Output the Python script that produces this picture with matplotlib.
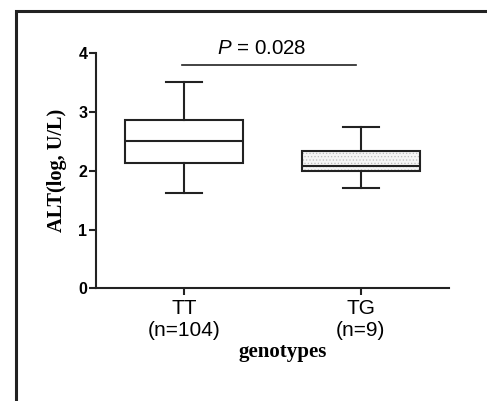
import matplotlib.pyplot as plt
from matplotlib.patches import Rectangle, PathPatch

# box statistics (log U/L)
genotypes = ["TT\n(n=104)", "TG\n(n=9)"]
whislo = [1.62, 1.70]
q1 = [2.13, 1.99]
med = [2.50, 2.09]
q3 = [2.87, 2.33]
whishi = [3.51, 2.75]
p_text = "$\\it{P}$ = 0.028"
p_bar_y = 3.80

plt.rcParams["mathtext.fontset"] = "custom"
plt.rcParams["mathtext.it"] = "Liberation Sans:italic"
plt.rcParams["mathtext.rm"] = "Liberation Sans"

stats = []
for i in range(len(genotypes)):
    stats.append(dict(label=genotypes[i], whislo=whislo[i], q1=q1[i], med=med[i],
                      q3=q3[i], whishi=whishi[i], fliers=[]))

fig = plt.figure(figsize=(4.87, 4.01), dpi=100)
ax = fig.add_axes([95.7 / 487, 1 - 288.3 / 401, (449.3 - 95.7) / 487, (288.3 - 53.3) / 401])

lw = 1.5
dark = "#222222"
bp = ax.bxp(stats, positions=[1, 2], widths=0.665, patch_artist=True, showfliers=False,
            boxprops=dict(linewidth=lw, edgecolor=dark, facecolor="white"),
            medianprops=dict(linewidth=lw, color=dark),
            whiskerprops=dict(linewidth=lw, color=dark),
            capprops=dict(linewidth=lw, color=dark),
            capwidths=0.2)

# light dotted fill for TG box
plt.rcParams["hatch.linewidth"] = 0.5
tg = bp["boxes"][1]
dots = PathPatch(tg.get_path(), facecolor="#f5f5f5", edgecolor="#bdbdbd", hatch=".....",
                 linewidth=0, zorder=tg.get_zorder() - 0.1)
ax.add_patch(dots)
tg.set_facecolor("none")

ax.set_xlim(0.5, 2.5)
ax.set_ylim(0, 4)
ax.set_yticks([0, 1, 2, 3, 4])
ax.spines["top"].set_visible(False)
ax.spines["right"].set_visible(False)
for s in ["left", "bottom"]:
    ax.spines[s].set_linewidth(lw)
    ax.spines[s].set_color(dark)
ax.tick_params(axis="both", width=lw, length=5, color=dark)
ax.tick_params(axis="y", labelsize=11.5, pad=1)
for t in ax.get_yticklabels():
    t.set_fontweight("bold")
    t.set_family("Liberation Sans")
ax.tick_params(axis="x", labelsize=15, pad=3)
for t in ax.get_xticklabels():
    t.set_family("Liberation Sans")
    t.set_linespacing(1.2)

ax.set_ylabel("ALT(log, U/L)", fontsize=14.7, fontweight="bold", family="Liberation Serif", labelpad=8)
fig.text(283 / 487, 1 - 352 / 401, "genotypes", fontsize=15, fontweight="bold",
         family="Liberation Serif", ha="center", va="center")

# significance bar
ax.plot([0.99, 1.97], [p_bar_y, p_bar_y], color=dark, lw=1.2, clip_on=False)
ax.text(1.44, p_bar_y + 0.12, p_text, fontsize=14.8, family="Liberation Sans",
        ha="center", va="bottom", clip_on=False)

# outer frame
fig.patches.append(Rectangle((15.5 / 487, -0.1), 1.2, 1 - 11 / 401 + 0.1, transform=fig.transFigure,
                             fill=False, edgecolor=dark, linewidth=2.2))

fig.savefig("out.png", dpi=100)
